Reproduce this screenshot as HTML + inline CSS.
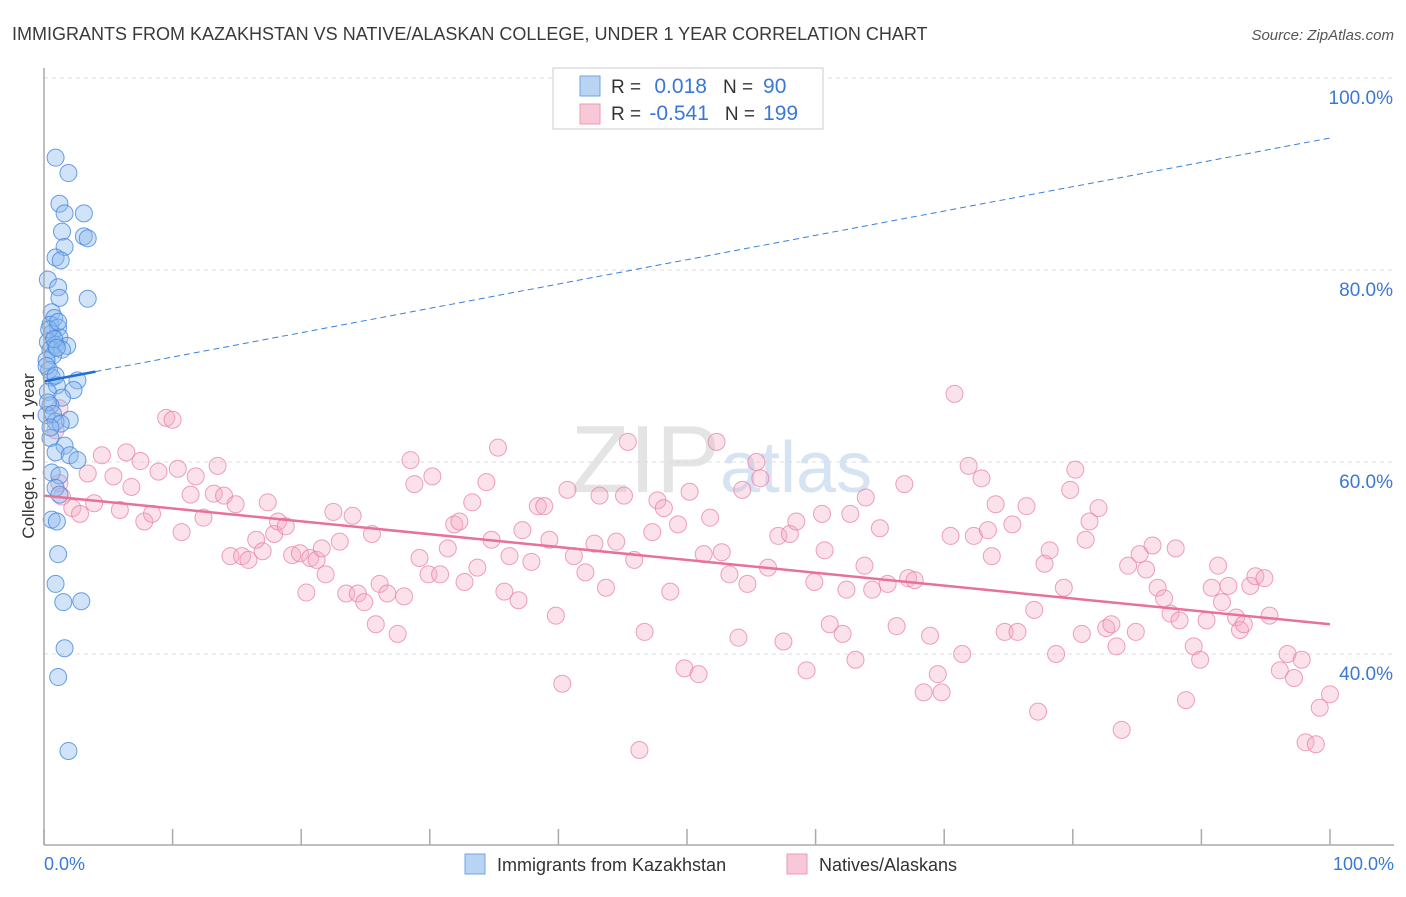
<!DOCTYPE html>
<html><head><meta charset="utf-8"><style>
body{margin:0;background:#fff;font-family:"Liberation Sans",sans-serif;}
svg text{font-family:"Liberation Sans",sans-serif;}
</style></head><body>
<svg id="c" width="1406" height="892" xmlns="http://www.w3.org/2000/svg">
<text x="12" y="40" font-size="18" fill="#3a3a3a">IMMIGRANTS FROM KAZAKHSTAN VS NATIVE/ALASKAN COLLEGE, UNDER 1 YEAR CORRELATION CHART</text>
<text x="1394" y="40" font-size="15" fill="#555" font-style="italic" text-anchor="end">Source: ZipAtlas.com</text>
<text x="720" y="492" font-size="96" fill="#e4e4e4" text-anchor="end" font-family="Liberation Serif">ZIP</text>
<text x="720" y="492" font-size="72" fill="#d6e3f3">atlas</text>
<text transform="translate(34,456) rotate(-90)" font-size="17" fill="#333" text-anchor="middle">College, Under 1 year</text>
<g id="grid"></g><g id="pts"></g><g id="trend"></g>
<line x1="44" y1="68" x2="44" y2="845" stroke="#aaa" stroke-width="1.5"/>
<line x1="44" y1="845" x2="1394" y2="845" stroke="#aaa" stroke-width="1.5"/>
<text x="44" y="870" font-size="18" fill="#3a78d8">0.0%</text>
<text x="1394" y="870" font-size="18" fill="#3a78d8" text-anchor="end">100.0%</text>
<g>
<rect x="553" y="68" width="270" height="61" fill="#fff" stroke="#ccc"/>
<rect x="580" y="76" width="20" height="20" fill="#b9d3f3" stroke="#6fa3e3"/>
<rect x="580" y="104" width="20" height="20" fill="#f8c8d6" stroke="#ec9ab4"/>
<text x="611" y="93" font-size="19" fill="#333">R = <tspan fill="#3a78d8" dx="8" font-size="21">0.018</tspan><tspan dx="16">N =</tspan><tspan fill="#3a78d8" dx="10" font-size="21">90</tspan></text>
<text x="611" y="120" font-size="19" fill="#333">R = <tspan fill="#3a78d8" dx="3" font-size="21">-0.541</tspan><tspan dx="16">N =</tspan><tspan fill="#3a78d8" dx="8" font-size="21">199</tspan></text>
</g>
<rect x="465" y="854" width="20" height="20" fill="#b9d3f3" stroke="#6fa3e3"/>
<text x="497" y="871" font-size="18" fill="#333">Immigrants from Kazakhstan</text>
<rect x="787" y="854" width="20" height="20" fill="#f8c8d6" stroke="#ec9ab4"/>
<text x="819" y="871" font-size="18" fill="#333">Natives/Alaskans</text>
</svg>
<script>
const yTicks=[40,60,80,100];
const yTickLabels=["40.0%","60.0%","80.0%","100.0%"];
const xTicks=[0,10,20,30,40,50,60,70,80,90,100];
const blueX=[0.9,1.9,1.2,1.6,3.1,1.4,3.1,3.4,1.6,0.9,1.3,0.3,1.1,1.2,3.4,0.6,0.8,0.5,1.1,0.6,1.2,0.3,0.9,1.8,0.5,1.4,0.7,0.2,0.4,0.6,2.6,1.0,2.3,0.3,1.4,0.5,0.2,2.0,0.9,0.5,1.6,0.9,2.0,2.6,0.6,1.2,0.9,1.2,0.6,1.0,1.1,0.9,1.5,2.9,1.6,1.1,1.9,0.4,0.8,1.0,0.3,0.7,1.3,0.5,0.2,0.9,1.1];
const blueY=[91.7,90.1,86.9,85.9,85.9,84.0,83.5,83.3,82.4,81.3,81.0,79.0,78.2,77.1,77.0,75.6,75.0,74.3,74.0,73.4,73.0,72.5,72.2,72.1,71.7,71.7,71.1,70.6,69.6,68.8,68.5,68.0,67.5,67.3,66.7,65.9,64.9,64.4,64.2,62.5,61.7,61.0,60.7,60.2,58.9,58.6,57.3,56.6,54.0,53.8,50.4,47.3,45.4,45.5,40.6,37.6,29.9,73.8,72.8,71.9,66.2,65.0,64.0,63.6,70.0,69.0,74.6];
const pinkX=[0.9,1.2,1.2,1.4,2.2,2.8,3.4,3.9,4.5,5.4,5.9,6.4,6.8,7.5,7.8,8.4,8.9,9.5,10.0,10.4,10.7,11.4,11.8,12.4,13.2,13.5,14.0,14.5,14.9,15.4,15.9,16.5,17.0,17.4,17.9,18.2,18.8,19.3,19.9,20.4,20.7,21.2,21.6,21.9,22.5,23.0,23.5,24.0,24.4,24.9,25.5,25.8,26.1,26.7,27.5,28.0,28.5,28.8,29.2,29.9,30.2,30.8,31.4,31.9,32.3,32.7,33.3,33.7,34.4,34.8,35.3,35.8,36.2,36.9,37.2,37.9,38.4,38.9,39.3,39.8,40.3,40.7,41.2,42.1,42.8,43.2,43.7,44.5,45.1,45.4,45.9,46.7,46.3,47.3,47.7,48.2,48.7,49.3,49.8,50.2,50.9,51.3,51.8,52.3,52.7,53.3,54.0,54.3,54.7,55.4,55.7,56.3,57.1,57.5,58.0,58.5,59.3,59.9,60.5,60.7,61.1,62.1,62.4,62.7,63.1,63.8,63.9,64.4,65.0,65.6,66.3,66.9,67.2,67.7,68.4,68.9,69.5,69.8,70.5,70.8,71.4,71.9,72.3,72.9,73.4,73.7,74.0,74.7,75.3,75.7,76.4,77.0,77.3,77.8,78.2,78.7,79.3,79.8,80.2,80.7,81.0,81.3,82.0,82.6,83.0,83.4,83.8,84.3,84.9,85.2,85.7,86.2,86.6,87.1,87.6,88.0,88.3,88.8,89.4,89.9,90.4,90.8,91.3,91.6,92.1,92.7,93.0,93.3,93.8,94.2,94.9,95.3,96.1,96.7,97.2,97.8,98.1,98.9,99.2,100.0];
const pinkY=[63.3,65.6,57.8,56.4,55.2,54.6,58.8,55.7,60.7,58.5,55.0,61.0,57.4,60.1,53.8,54.6,59.0,64.6,64.4,59.3,52.7,56.6,58.5,54.2,56.7,59.6,56.5,50.2,55.6,50.2,49.8,51.9,50.7,55.8,52.5,53.8,53.3,50.3,50.5,46.4,50.0,49.8,51.0,48.3,54.8,51.7,46.3,54.4,46.3,45.4,52.5,43.1,47.3,46.3,42.1,46.0,60.2,57.7,50.0,48.3,58.5,48.3,51.0,53.5,53.8,47.5,55.8,49.0,57.9,51.9,61.5,46.5,50.2,45.6,52.9,49.6,55.4,55.4,51.9,44.0,36.9,57.1,50.2,48.5,51.5,56.5,46.9,51.7,56.5,62.1,49.8,42.3,30.0,52.7,56.0,55.2,46.5,53.5,38.5,56.9,37.9,50.4,54.2,62.1,50.6,48.3,41.7,57.1,47.3,60.0,58.3,49.0,52.3,41.3,52.5,53.8,38.3,47.5,54.6,50.8,43.1,42.1,46.7,54.6,39.4,49.2,56.3,46.7,53.1,47.3,42.9,57.7,47.9,47.7,36.0,41.9,37.9,36.0,52.3,67.1,40.0,59.6,52.3,58.3,52.9,50.2,55.6,42.3,53.5,42.3,55.4,44.6,34.0,49.4,50.8,40.0,46.9,57.1,59.2,42.1,51.9,53.8,55.2,42.7,43.1,40.8,32.1,49.2,42.3,50.4,48.8,51.3,46.9,45.8,44.2,51.0,43.5,35.2,40.8,39.4,43.5,46.9,49.2,45.4,47.1,43.8,42.5,43.1,47.1,48.1,47.9,44.0,38.3,40.0,37.5,39.4,30.8,30.6,34.4,35.8];
const blueTrend=[68.4,93.75];
const pinkTrend=[56.5,43.1];
const NS='http://www.w3.org/2000/svg';
const sx=v=>44+v*12.86;
const sy=v=>1038-v*9.6;
function mk(tag,attrs,parent){const e=document.createElementNS(NS,tag);for(const k in attrs)e.setAttribute(k,attrs[k]);parent.appendChild(e);return e;}
const grid=document.getElementById('grid');
yTicks.forEach((t,i)=>{
 const l=mk('line',{x1:44,x2:1394,y1:sy(t),y2:sy(t),stroke:'#ddd','stroke-dasharray':'4,4'},grid);
 
 
 const tx=mk('text',{x:1393,y:sy(t)+26,'font-size':19,fill:'#3a78d8','text-anchor':'end'},grid);
 tx.textContent=yTickLabels[i];
 
 
});
xTicks.forEach(t=>{
 const l=mk('line',{x1:sx(t),x2:sx(t),y1:829,y2:845,stroke:'#aaa','stroke-width':1.5},grid);
 
 
});
const pts=document.getElementById('pts');
pinkX.forEach((x,i)=>{
 const c=mk('circle',{cx:sx(x),cy:sy(pinkY[i]),r:8.5,fill:'rgba(244,170,195,0.35)',stroke:'rgba(232,130,165,0.75)','stroke-width':1},pts);
 
 
});
blueX.forEach((x,i)=>{
 const c=mk('circle',{cx:sx(x),cy:sy(blueY[i]),r:8.5,fill:'rgba(140,185,240,0.4)',stroke:'rgba(70,135,220,0.8)','stroke-width':1},pts);
 
 
});
const tr=document.getElementById('trend');
const bmid=blueTrend[0]+(blueTrend[1]-blueTrend[0])*0.04;
const b1=mk('line',{x1:sx(0),y1:sy(blueTrend[0]),x2:sx(4),y2:sy(bmid),stroke:'#1f6fd1','stroke-width':2.5},tr);


const b2=mk('line',{x1:sx(4),y1:sy(bmid),x2:sx(100),y2:sy(blueTrend[1]),stroke:'#3a80d8','stroke-width':1,'stroke-dasharray':'6,4'},tr);


const p1=mk('line',{x1:sx(0),y1:sy(pinkTrend[0]),x2:sx(100),y2:sy(pinkTrend[1]),stroke:'#e8709a','stroke-width':2.5},tr);


</script>
</body></html>
